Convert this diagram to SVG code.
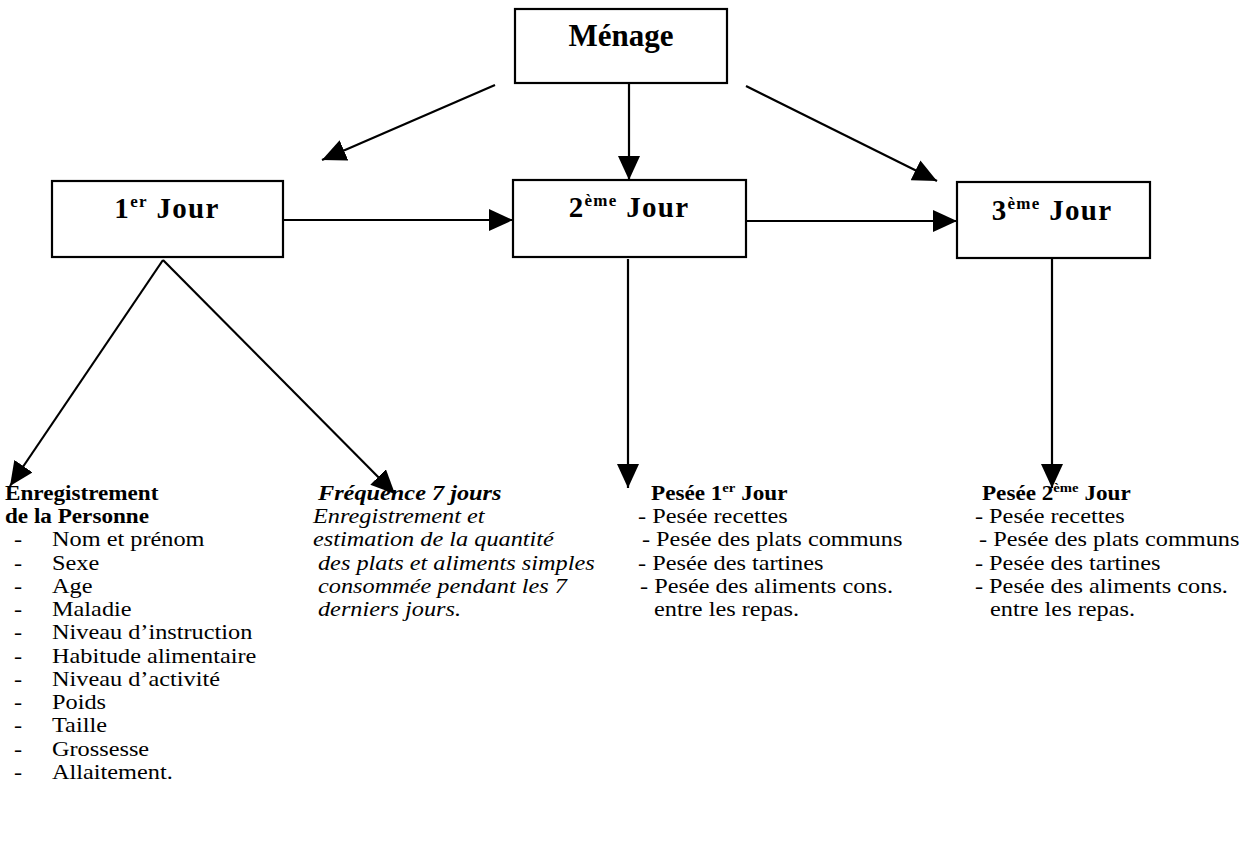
<svg xmlns="http://www.w3.org/2000/svg" width="1250" height="841" viewBox="0 0 1250 841">
<style>
  .box { fill: #ffffff; stroke: #000000; stroke-width: 2.2; }
  .title { font-family: "Liberation Serif", "Times New Roman", serif; font-weight: bold; font-size: 29px; letter-spacing: 1.3px; fill: #000; }
  .main { font-family: "Liberation Serif", "Times New Roman", serif; font-weight: bold; font-size: 31px; fill: #000; }
  .t { font-family: "Liberation Serif", "Times New Roman", serif; font-size: 21.5px; fill: #000; }
  .b { font-weight: bold; font-size: 20.5px; }
  .i { font-style: italic; }
  .conn line { stroke: #000; stroke-width: 2.2; fill: none; marker-end: url(#ah); }
</style>
<defs>
  <marker id="ah" markerUnits="userSpaceOnUse" markerWidth="24" markerHeight="22" viewBox="0 0 24 22" refX="24" refY="11" orient="auto">
    <path d="M0,0 L24,11 L0,22 Z" fill="#000"/>
  </marker>
</defs>
<rect width="1250" height="841" fill="#ffffff"/>

<g id="conn" class="conn">
  <line x1="495" y1="85" x2="322" y2="160"/>
  <line x1="629" y1="83" x2="629" y2="180"/>
  <line x1="746" y1="86" x2="937" y2="181"/>
  <line x1="283" y1="220" x2="513" y2="220"/>
  <line x1="746" y1="221" x2="957" y2="221"/>
  <line x1="163" y1="260" x2="10" y2="486"/>
  <line x1="163" y1="260" x2="395" y2="494"/>
  <line x1="628" y1="259" x2="628" y2="488"/>
  <line x1="1052" y1="258" x2="1052" y2="488"/>
</g>

<g id="menage">
  <rect class="box" x="515" y="9" width="212" height="74"/>
  <text class="main" x="621" y="46" text-anchor="middle">Ménage</text>
</g>

<g id="jour1">
  <rect class="box" x="52" y="181" width="231" height="76"/>
  <text class="title" x="167" y="218" text-anchor="middle">1<tspan font-size="17" dy="-11">er</tspan><tspan dy="11"> Jour</tspan></text>
</g>

<g id="jour2">
  <rect class="box" x="513" y="180" width="233" height="77"/>
  <text class="title" x="629" y="217" text-anchor="middle">2<tspan font-size="17" dy="-11">ème</tspan><tspan dy="11"> Jour</tspan></text>
</g>

<g id="jour3">
  <rect class="box" x="957" y="182" width="193" height="76"/>
  <text class="title" x="1052" y="220" text-anchor="middle">3<tspan font-size="17" dy="-11">ème</tspan><tspan dy="11"> Jour</tspan></text>
</g>

<g id="personne" transform="scale(1.13 1)">
  <text class="t b" x="4.4" y="500">Enregistrement</text>
  <text class="t b" x="4.4" y="523">de la Personne</text>
  <text class="t" x="12.4" y="546">-</text><text class="t" x="46" y="546">Nom et prénom</text>
  <text class="t" x="12.4" y="570">-</text><text class="t" x="46" y="570">Sexe</text>
  <text class="t" x="12.4" y="593">-</text><text class="t" x="46" y="593">Age</text>
  <text class="t" x="12.4" y="616">-</text><text class="t" x="46" y="616">Maladie</text>
  <text class="t" x="12.4" y="639">-</text><text class="t" x="46" y="639">Niveau d’instruction</text>
  <text class="t" x="12.4" y="663">-</text><text class="t" x="46" y="663">Habitude alimentaire</text>
  <text class="t" x="12.4" y="686">-</text><text class="t" x="46" y="686">Niveau d’activité</text>
  <text class="t" x="12.4" y="709">-</text><text class="t" x="46" y="709">Poids</text>
  <text class="t" x="12.4" y="732">-</text><text class="t" x="46" y="732">Taille</text>
  <text class="t" x="12.4" y="756">-</text><text class="t" x="46" y="756">Grossesse</text>
  <text class="t" x="12.4" y="779">-</text><text class="t" x="46" y="779">Allaitement.</text>
</g>

<g id="frequence" transform="scale(1.13 1)">
  <text class="t b i" x="281.4" y="500" style="font-size:21.5px">Fréquence 7 jours</text>
  <text class="t i" x="277" y="523">Enregistrement et</text>
  <text class="t i" x="277" y="546">estimation de la quantité</text>
  <text class="t i" x="281.4" y="570">des plats et aliments simples</text>
  <text class="t i" x="281.4" y="593">consommée pendant les 7</text>
  <text class="t i" x="281.4" y="616">derniers jours.</text>
</g>

<g id="pesee1" transform="scale(1.13 1)">
  <text class="t b" x="576.1" y="500">Pesée 1<tspan font-size="13" dy="-8">er</tspan><tspan dy="8"> Jour</tspan></text>
  <text class="t" x="564.6" y="523">- Pesée recettes</text>
  <text class="t" x="568.1" y="546">- Pesée des plats communs</text>
  <text class="t" x="564.6" y="570">- Pesée des tartines</text>
  <text class="t" x="566.4" y="593">- Pesée des aliments cons.</text>
  <text class="t" x="578.8" y="616">entre les repas.</text>
</g>

<g id="pesee2" transform="scale(1.13 1)">
  <text class="t b" x="869" y="500">Pesée 2<tspan font-size="13" dy="-8">ème</tspan><tspan dy="8">  Jour</tspan></text>
  <text class="t" x="862.8" y="523">- Pesée recettes</text>
  <text class="t" x="866.4" y="546">- Pesée des plats communs</text>
  <text class="t" x="862.8" y="570">- Pesée des tartines</text>
  <text class="t" x="862.8" y="593">- Pesée des aliments cons.</text>
  <text class="t" x="876.1" y="616">entre les repas.</text>
</g>
</svg>
